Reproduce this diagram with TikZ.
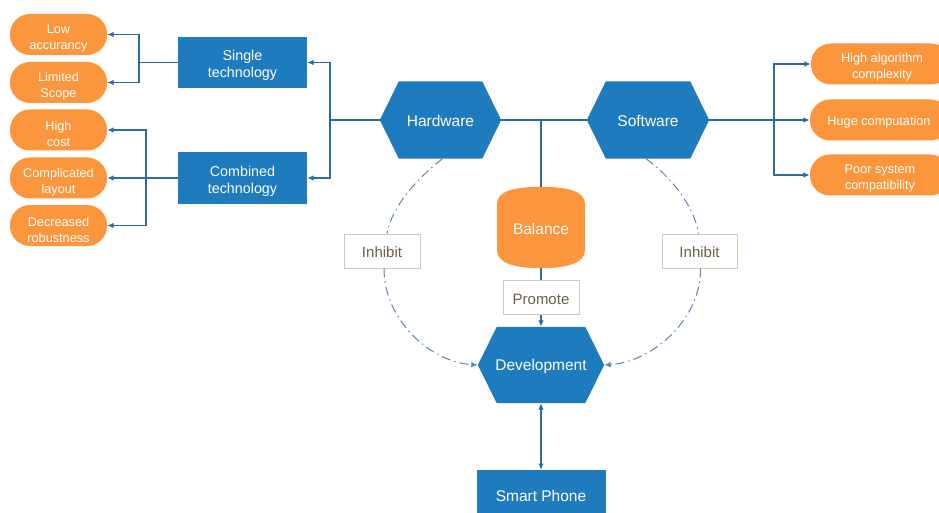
\documentclass[tikz,border=0pt]{standalone}
\usepackage{fontspec}
\setmainfont{Liberation Sans}
\usetikzlibrary{arrows.meta,calc,backgrounds}
\definecolor{hexblue}{HTML}{1E7BBE}
\definecolor{pillor}{HTML}{FB963C}
\definecolor{conncol}{HTML}{2B6CA3}
\definecolor{dashcol}{HTML}{5A87B5}
\definecolor{lblborder}{HTML}{D3CBAF}
\definecolor{lbltext}{HTML}{6B6148}
\newcommand\hexfill[1]{%
  \begin{scope}[on background layer]
  \fill[hexblue] (#1.west) -- ([xshift=19pt]#1.north west) -- ([xshift=-19pt]#1.north east)
    -- (#1.east) -- ([xshift=-19pt]#1.south east) -- ([xshift=19pt]#1.south west) -- cycle;
  \end{scope}}
\tikzset{
  hexnode/.style={minimum width=121pt,minimum height=77pt,inner sep=0pt},
  hextxt/.style={text=white,inner sep=0pt,font=\fontsize{15.5}{18}\selectfont,yshift=-1.3pt},
  bluebox/.style={fill=hexblue,minimum width=129pt,minimum height=51pt,inner sep=0pt},
  boxtxt/.style={text=white,align=center,inner sep=0pt,font=\fontsize{14.3}{16.8}\selectfont,yshift=-3pt},
  pill/.style={fill=pillor,rounded corners=20pt,minimum width=97pt,minimum height=41pt,inner sep=0pt},
  rpill/.style={pill,minimum width=140pt},
  ptxt/.style={text=white,align=center,inner sep=0pt,font=\fontsize{12.7}{16}\selectfont,yshift=-4pt},
  lbl/.style={draw=lblborder,line width=1pt,fill=white,inner sep=0pt,minimum height=34pt},
  lbltxt/.style={text=lbltext,inner sep=0pt,font=\fontsize{15}{18}\selectfont,yshift=-1.2pt},
  conn/.style={draw=conncol,line width=1.2pt},
  arr/.style={conn,-{Latex[length=6.5pt,width=5.5pt]}},
  arrboth/.style={conn,{Latex[length=6.5pt,width=5.5pt]}-{Latex[length=6.5pt,width=5.5pt]}},
  dd/.style={draw=dashcol,line width=1pt,dash pattern=on 9pt off 4pt on 1.5pt off 4pt,
    -{Latex[length=6.5pt,width=5.5pt]}},
  ddn/.style={draw=dashcol,line width=1pt,dash pattern=on 9pt off 4pt on 1.5pt off 4pt}
}
\begin{document}
\begin{tikzpicture}[x=1pt,y=-1pt]
\useasboundingbox (0,0) rectangle (939,513);
\begin{scope}[on background layer]
\fill[white] (0,0) rectangle (939,513);
\end{scope}
% hexagons
\node[hexnode,label={[hextxt]center:Hardware}] (hw) at (440.5,120) {};
\hexfill{hw}
\node[hexnode,minimum width=122pt,label={[hextxt]center:Software}] (sw) at (648,120) {};
\hexfill{sw}
\node[hexnode,minimum width=126pt,minimum height=76pt,label={[hextxt]center:Development}] (dev) at (541,365) {};
\hexfill{dev}
% balance
\node[minimum width=88pt,minimum height=81pt,inner sep=0pt,label={[hextxt]center:Balance}] (bal) at (541,227.5) {};
\begin{scope}[on background layer]
\fill[pillor] (497,204) -- (497,250) .. controls (497,263) and (514,268) .. (bal.south)
  .. controls (568,268) and (585,263) .. (585,250) -- (585,204)
  .. controls (585,191) and (568,187) .. (bal.north) .. controls (514,187) and (497,191) .. (497,204) -- cycle;
\end{scope}
% labels
\node[lbl,minimum width=76pt,label={[lbltxt,yshift=-1pt]center:Promote}] (promote) at (541,297.5) {};
\node[lbl,minimum width=76pt,label={[lbltxt]center:Inhibit}] (inL) at (382,251) {};
\node[lbl,minimum width=75pt,label={[lbltxt]center:Inhibit}] (inR) at (699.5,251) {};
% smart phone
\node[fill=hexblue,minimum width=129pt,minimum height=60pt,inner sep=0pt,anchor=north] (phone) at (541,470) {};
\node[text=white,font=\fontsize{15.5}{18}\selectfont,inner sep=0pt] (phonetxt) at (541,496) {Smart Phone};
% left boxes
\node[bluebox,label={[boxtxt]center:{Single\\technology}}] (single) at (242.5,62.5) {};
\node[bluebox,label={[boxtxt]center:{Combined\\technology}}] (comb) at (242.5,178) {};
% left pills
\node[pill,label={[ptxt]center:{Low\\accurancy}}] (low) at (58.5,34.5) {};
\node[pill,label={[ptxt]center:{Limited\\Scope}}] (lim) at (58.5,82.5) {};
\node[pill,label={[ptxt]center:{High\\cost}}] (high) at (58.5,130) {};
\node[pill,label={[ptxt]center:{Complicated\\layout}}] (compl) at (58.5,178) {};
\node[pill,label={[ptxt]center:{Decreased\\robustness}}] (dec) at (58.5,225.5) {};
% right pills
\node[rpill,label={[ptxt,xshift=1pt,yshift=0.5pt]center:{High algorithm\\complexity}}] (alg) at (881,64) {};
\node[rpill,label={[ptxt,xshift=-1pt,yshift=1.3pt]center:{Huge computation}}] (huge) at (880,120) {};
\node[rpill,label={[ptxt,yshift=0.5pt]center:{Poor system\\compatibility}}] (poor) at (880,175) {};
% connectors left
\draw[conn] (hw.west) -- (330,120) coordinate (j1);
\draw[arr] (j1) |- (single.east);
\draw[arr] (j1) |- (comb.east);
\draw[conn] (single.west) -- (139,62.5) coordinate (j2);
\draw[arr] (j2) |- (low.east);
\draw[arr] (j2) |- (lim.east);
\draw[arr] (comb.west) -- (compl.east);
\coordinate (j3) at (146,178);
\draw[arr] (j3) |- (high.east);
\draw[arr] (j3) |- (dec.east);
% centre
\draw[conn] (hw.east) -- (sw.west);
\draw[conn] (bal.north |- hw.east) -- (bal.north);
\draw[conn] (bal.south) -- (promote.north);
\draw[arr] (promote.south) -- (dev.north);
\draw[arrboth] (dev.south) -- (phone.north);
% right
\draw[arr] (sw.east) -- (huge.west);
\coordinate (j4) at (774,120);
\draw[arr] (j4) |- (alg.west);
\draw[arr] (j4) |- (poor.west);
% inhibit arcs
\draw[ddn] ([xshift=2pt]hw.south) .. controls (420,176) and (392,205) .. ([xshift=5pt]inL.north);
\draw[dd] ([xshift=2pt]inL.south) .. controls (384,320) and (430,362) .. (dev.west);
\draw[ddn] ([xshift=-2pt]sw.south) .. controls (670,176) and (694,205) .. ([xshift=-1pt]inR.north);
\draw[dd] ([xshift=1pt]inR.south) .. controls (701,320) and (652,362) .. (dev.east);
\end{tikzpicture}
\end{document}
